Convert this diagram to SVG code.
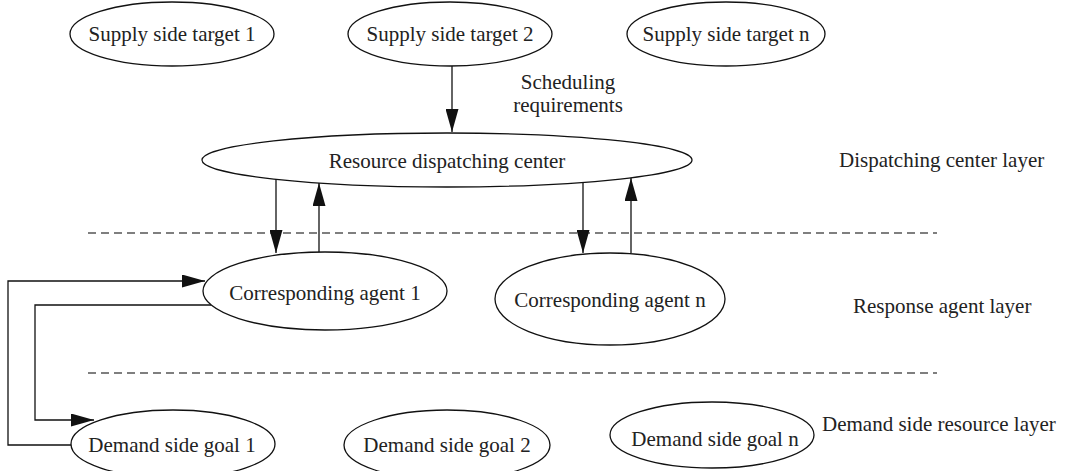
<svg xmlns="http://www.w3.org/2000/svg" width="1067" height="471" viewBox="0 0 1067 471">
<style>
.n ellipse{fill:#fff;stroke:#111;stroke-width:1.3}
text{font-family:"Liberation Serif","DejaVu Serif",serif;font-size:21px;fill:#222}
.c{text-anchor:middle}
.e path{fill:none;stroke:#111;stroke-width:1.3}
.d{stroke:#555;stroke-width:1.5;stroke-dasharray:8 5;fill:none}
</style>
<defs>
<marker id="ah" viewBox="0 0 23 13" refX="23" refY="6.5" markerWidth="23" markerHeight="13" markerUnits="userSpaceOnUse" orient="auto">
<path d="M0,0 L23,6.5 L0,13 Z" fill="#111"/>
</marker>
</defs>
<rect width="1067" height="471" fill="#fff"/>
<g id="layers">
<path class="d" d="M88,233 H937"/>
<path class="d" d="M88,373 H937"/>
<text x="839" y="167">Dispatching center layer</text>
<text x="853" y="313">Response agent layer</text>
<text x="822" y="431">Demand side resource layer</text>
</g>
<g id="supply1" class="n"><ellipse cx="172" cy="34" rx="102" ry="32"/><text class="c" x="172" y="41">Supply side target 1</text></g>
<g id="supply2" class="n"><ellipse cx="450" cy="34" rx="102" ry="32"/><text class="c" x="450" y="41">Supply side target 2</text></g>
<g id="supplyn" class="n"><ellipse cx="726" cy="34" rx="99" ry="32"/><text class="c" x="726" y="41">Supply side target n</text></g>
<g id="center" class="n"><ellipse cx="447" cy="160" rx="245" ry="27"/><text class="c" x="447" y="168">Resource dispatching center</text></g>
<g id="agent1" class="n"><ellipse cx="325" cy="291" rx="122" ry="39"/><text class="c" x="325" y="300">Corresponding agent 1</text></g>
<g id="agentn" class="n"><ellipse cx="610" cy="299" rx="115" ry="46"/><text class="c" x="610" y="307">Corresponding agent n</text></g>
<g id="goal1" class="n"><ellipse cx="173" cy="444" rx="102" ry="34"/><text class="c" x="172" y="452">Demand side goal 1</text></g>
<g id="goal2" class="n"><ellipse cx="447" cy="445" rx="103" ry="35"/><text class="c" x="447" y="452">Demand side goal 2</text></g>
<g id="goaln" class="n"><ellipse cx="712" cy="435" rx="102" ry="33"/><text class="c" x="715" y="446">Demand side goal n</text></g>
<g id="connectors" class="e">
<path d="M452,66 V132" marker-end="url(#ah)"/>
<path d="M276,179 V253" marker-end="url(#ah)"/>
<path d="M319,252 V183" marker-end="url(#ah)"/>
<path d="M583,183 V253" marker-end="url(#ah)"/>
<path d="M631,253 V178" marker-end="url(#ah)"/>
<path d="M71,445 H8 V281 H205" marker-end="url(#ah)"/>
<path d="M211,305 H35 V420 H94" marker-end="url(#ah)"/>
<text class="c" x="568" y="89" style="stroke:none">Scheduling</text>
<text class="c" x="568" y="112" style="stroke:none">requirements</text>
</g>
</svg>
